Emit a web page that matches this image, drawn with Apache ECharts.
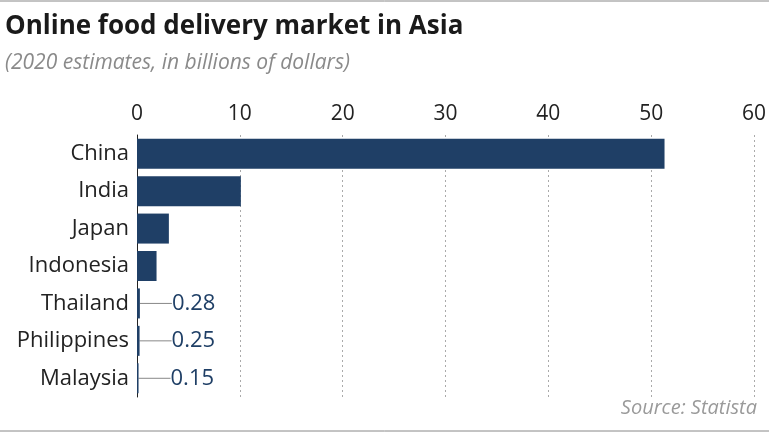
<!DOCTYPE html>
<html><head><meta charset="utf-8">
<script src="https://cdn.jsdelivr.net/npm/echarts@6/dist/echarts.min.js"></script>
<style>html,body{margin:0;padding:0;background:#fff}#c{width:769px;height:433px}</style>
</head><body><div id="c"></div>
<script>
const categories = ["China","India","Japan","Indonesia","Thailand","Philippines","Malaysia"];
const values = [51.3, 10.1, 3.1, 1.9, 0.28, 0.25, 0.15];
const tickLabels = [0,10,20,30,40,50,60];
const labelled = ["Thailand","Philippines","Malaysia"];
const F = '"Open Sans"';
const chart = echarts.init(document.getElementById('c'));
chart.setOption({
  backgroundColor:'#fff',
  animation:false,
  graphic:[
    {type:'line',shape:{x1:0,y1:1,x2:769,y2:1},style:{stroke:'#888',lineWidth:1}},
    {type:'line',shape:{x1:0,y1:431,x2:769,y2:431},style:{stroke:'#888',lineWidth:1}},
    {type:'text',left:5,top:14,style:{text:'Online food delivery market in Asia',font:'bold 26px "Open Sans"',fill:'#1a1a1a'}},
    {type:'text',left:5,top:53,style:{text:'(2020 estimates, in billions of dollars)',font:'italic 21px "Open Sans"',fill:'#8a8a8a'}},
    {type:'text',right:12,top:398,style:{text:'Source: Statista',font:'italic 20px "Open Sans"',fill:'#9a9a9a'}}
  ],
  grid:{left:137,right:15,top:135,bottom:36},
  xAxis:{type:'value',position:'top',min:0,max:60,interval:10,
    axisLine:{show:false},axisTick:{show:false},
    axisLabel:{fontSize:21,color:'#222',fontFamily:F,margin:10,
      formatter:v=>tickLabels.includes(v)?String(v):''},
    splitLine:{lineStyle:{type:[2,3],color:'#aaa'}}},
  yAxis:{type:'category',data:categories,inverse:true,
    axisLine:{lineStyle:{color:'#222',width:1}},axisTick:{show:false},
    axisLabel:{fontSize:22,color:'#222',fontFamily:F,margin:8}},
  series:[{type:'bar',data:values.map((v,i)=>({value:v,
      label:{show:labelled.includes(categories[i])}})),
    barWidth:30,itemStyle:{color:'#1f3f66'},
    label:{position:'right',distance:32,fontSize:22,color:'#1f3f66',fontFamily:F,
      formatter:p=>p.value.toFixed(2)},
    labelLine:{show:true,lineStyle:{color:'#888',width:1}},
    labelLayout:{dx:0}
  }]
});
</script></body></html>
